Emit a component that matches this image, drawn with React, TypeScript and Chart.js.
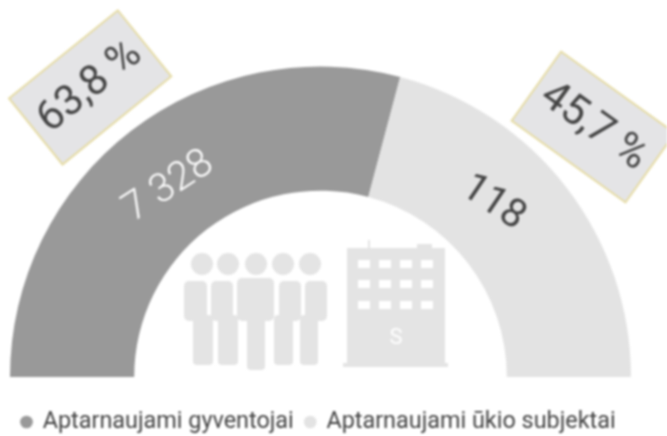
import React, { useEffect, useRef } from "react";
import { Chart, registerables } from "chart.js";

Chart.register(...registerables);

const categories = ["Aptarnaujami gyventojai", "Aptarnaujami ūkio subjektai"];
const shares = [63.8, 45.7];
const counts = ["7 328", "118"];
const shareLabels = ["63,8 %", "45,7 %"];
const colors = ["#999999", "#e3e3e3"];
const countColors = ["#ffffff", "#444444"];

const FONT = "Roboto";

const people = [
  { head: 202, torso: [184, 207], legs: [193, 213] },
  { head: 228, torso: [211, 233], legs: [218, 238] },
  { head: 283, torso: [279, 301], legs: [274, 293] },
  { head: 310, torso: [305, 327], legs: [300, 318] },
  { head: 256, torso: [237, 274], legs: [247, 265] },
];

function rr(ctx: CanvasRenderingContext2D, x: number, y: number, w: number, h: number, r: number) {
  ctx.beginPath();
  ctx.roundRect(x, y, w, h, r);
  ctx.fill();
}

function drawIcons(ctx: CanvasRenderingContext2D) {
  ctx.save();
  ctx.fillStyle = "#e4e4e4";
  people.forEach((p, i) => {
    const big = i === 4;
    ctx.beginPath();
    ctx.arc(p.head, 264, 11, 0, Math.PI * 2);
    ctx.fill();
    rr(ctx, p.torso[0], big ? 278 : 281, p.torso[1] - p.torso[0], big ? 43 : 40, 5);
    rr(ctx, p.legs[0], 315, p.legs[1] - p.legs[0], big ? 55 : 50, 4);
  });
  ctx.fillRect(347, 248, 98, 117);
  ctx.fillRect(343, 363, 105, 4);
  ctx.fillRect(368, 240, 2, 8);
  ctx.fillRect(417, 244, 15, 4);
  ctx.fillStyle = "#ffffff";
  [364, 385, 406, 427].forEach((x) => {
    [264, 284, 305].forEach((y) => ctx.fillRect(x - 6, y - 4, 12, 8));
  });
  ctx.font = `400 22px ${FONT}`;
  ctx.textAlign = "center";
  ctx.textBaseline = "middle";
  ctx.fillText("S", 396, 338);
  ctx.restore();
}

const overlayPlugin = {
  id: "gaugeOverlay",
  afterDatasetsDraw(chart: any) {
    const { ctx } = chart;
    const arcs = chart.getDatasetMeta(0).data;
    const cx = arcs[0].x;
    const cy = arcs[0].y;
    drawIcons(ctx);

    const polar = (deg: number, r: number) => {
      const a = (deg * Math.PI) / 180;
      return [cx + r * Math.sin(a), cy - r * Math.cos(a)];
    };

    const countPlaces = [
      { deg: -38.6, r: 243, rot: -33, weight: 300 },
      { deg: 44.8, r: 245, rot: 34, weight: 400 },
    ];
    counts.forEach((t, i) => {
      const pl = countPlaces[i];
      const [x, y] = polar(pl.deg, pl.r);
      ctx.save();
      ctx.translate(x, y);
      ctx.rotate((pl.rot * Math.PI) / 180);
      ctx.fillStyle = countColors[i];
      ctx.font = `${pl.weight} 40px ${FONT}`;
      ctx.textAlign = "center";
      ctx.textBaseline = "middle";
      ctx.fillText(t, 0, 0);
      ctx.restore();
    });

    const boxPlaces = [
      { deg: -38.5, r: 370, rot: -39 },
      { deg: 47.5, r: 370, rot: 35.6 },
    ];
    shareLabels.forEach((t, i) => {
      const pl = boxPlaces[i];
      const [x, y] = polar(pl.deg, pl.r);
      ctx.save();
      ctx.translate(x, y);
      ctx.rotate((pl.rot * Math.PI) / 180);
      ctx.fillStyle = "#e4e4e6";
      ctx.strokeStyle = "#e6dca6";
      ctx.lineWidth = 2;
      ctx.fillRect(-70, -42.5, 140, 85);
      ctx.strokeRect(-70, -42.5, 140, 85);
      ctx.fillStyle = "#444444";
      ctx.font = `400 42px ${FONT}`;
      ctx.textAlign = "center";
      ctx.textBaseline = "middle";
      ctx.fillText(t, 0, 0);
      ctx.restore();
    });
  },
};

export default function App() {
  const ref = useRef<HTMLCanvasElement>(null);

  useEffect(() => {
    document.body.style.margin = "0";
    const chart = new Chart(ref.current!, {
      type: "doughnut",
      data: {
        labels: categories,
        datasets: [{ data: shares, backgroundColor: colors, borderWidth: 0 }],
      },
      options: {
        animation: false,
        responsive: false,
        rotation: -90,
        circumference: 180,
        cutout: "60%",
        layout: { padding: { left: 10, right: 36, top: 66.5, bottom: 0 } },
        plugins: {
          tooltip: { enabled: false },
          legend: {
            position: "bottom",
            align: "start",
            maxHeight: 59,
            title: {
              display: true,
              text: " ",
              font: { size: 1, lineHeight: 1 },
              padding: { top: 9.5, bottom: 10.8 },
            },
            labels: {
              usePointStyle: true,
              boxWidth: 9,
              boxHeight: 9,
              padding: 12,
              color: "#444444",
              font: { family: FONT, size: 23.4, lineHeight: 1 },
            },
          },
        },
      },
      plugins: [overlayPlugin],
    });
    return () => chart.destroy();
  }, []);

  return (
    <canvas
      ref={ref}
      width={667}
      height={436}
      style={{ display: "block", width: 667, height: 436, filter: "blur(0.8px)" }}
    />
  );
}
